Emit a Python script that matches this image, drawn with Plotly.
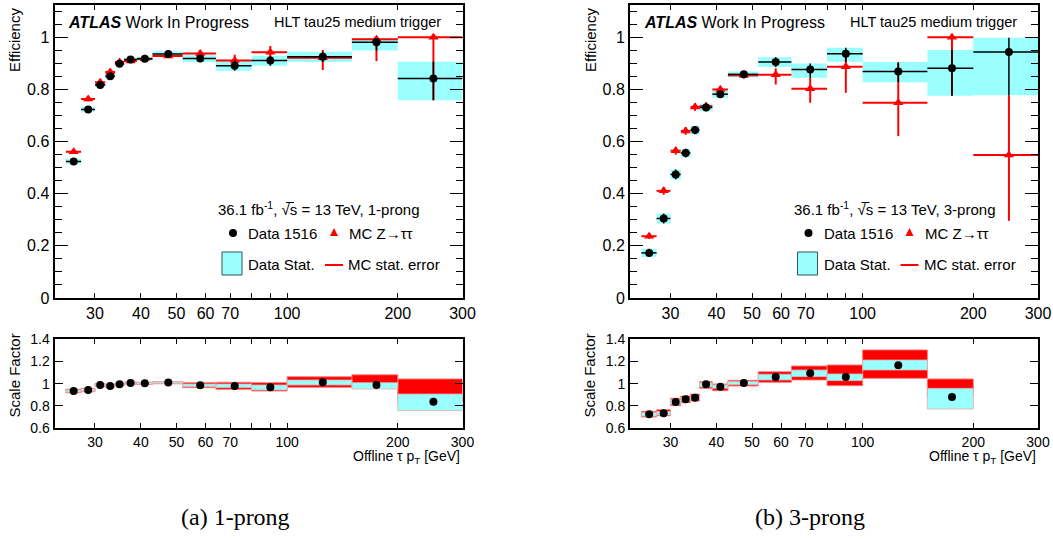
import plotly.graph_objects as go

W, H = 1053, 540

# Offline tau pT binning [GeV]
edges = [25, 27.5, 30, 32, 34, 36, 39, 43, 52, 64, 80, 100, 150, 200, 300]

# ---------------- 1-prong ----------------
eff1_data = [0.524, 0.7235, 0.817, 0.851, 0.899, 0.915, 0.918, 0.936, 0.919, 0.891, 0.911, 0.925, 0.981, 0.842]
eff1_data_up = [0.009, 0.009, 0.008, 0.008, 0.007, 0.007, 0.007, 0.010, 0.012, 0.022, 0.018, 0.020, 0.015, 0.064]
eff1_data_dn = [0.009, 0.009, 0.008, 0.008, 0.007, 0.007, 0.007, 0.010, 0.014, 0.019, 0.020, 0.020, 0.032, 0.083]
eff1_mc = [0.561, 0.763, 0.828, 0.867, 0.905, 0.909, 0.918, 0.928, 0.938, 0.911, 0.943, 0.922, 0.993, 1.0]
eff1_mc_up = [0.008, 0.008, 0.007, 0.007, 0.007, 0.006, 0.006, 0.008, 0.012, 0.022, 0.024, 0.029, 0.007, 0.0]
eff1_mc_dn = [0.008, 0.008, 0.007, 0.007, 0.007, 0.006, 0.006, 0.008, 0.012, 0.022, 0.025, 0.047, 0.084, 0.241]

sf1 = [0.934, 0.943, 0.988, 0.979, 0.994, 1.005, 1.003, 1.010, 0.985, 0.979, 0.967, 1.012, 0.988, 0.838]
sf1_mc_lo = [0.918, 0.928, 0.976, 0.968, 0.984, 0.996, 0.994, 0.999, 0.964, 0.949, 0.934, 0.967, 0.981, 0.842]
sf1_mc_hi = [0.950, 0.958, 1.000, 0.990, 1.004, 1.014, 1.012, 1.018, 1.009, 1.012, 1.009, 1.062, 1.079, 1.042]
sf1_dat_lo = [0.924, 0.933, 0.980, 0.971, 0.987, 0.998, 0.996, 1.002, 0.973, 0.964, 0.943, 0.988, 0.952, 0.758]
sf1_dat_hi = [0.944, 0.953, 0.996, 0.987, 1.001, 1.012, 1.010, 1.016, 0.997, 0.997, 0.988, 1.033, 1.009, 0.907]

# ---------------- 3-prong ----------------
eff3_data = [0.173, 0.305, 0.474, 0.556, 0.644, 0.731, 0.782, 0.858, 0.905, 0.877, 0.937, 0.869, 0.881, 0.944]
eff3_data_up = [0.016, 0.019, 0.019, 0.017, 0.016, 0.015, 0.014, 0.011, 0.019, 0.023, 0.023, 0.036, 0.070, 0.054]
eff3_data_dn = [0.016, 0.019, 0.019, 0.017, 0.016, 0.015, 0.014, 0.011, 0.019, 0.032, 0.031, 0.041, 0.105, 0.166]
eff3_mc = [0.237, 0.411, 0.565, 0.641, 0.733, 0.736, 0.800, 0.854, 0.856, 0.803, 0.887, 0.749, 1.0, 0.549]
eff3_mc_up = [0.010, 0.015, 0.015, 0.015, 0.015, 0.014, 0.014, 0.012, 0.025, 0.043, 0.064, 0.153, 0.0, 0.229]
eff3_mc_dn = [0.010, 0.015, 0.015, 0.015, 0.015, 0.014, 0.014, 0.012, 0.037, 0.054, 0.100, 0.128, 0.224, 0.253]

sf3 = [0.725, 0.734, 0.836, 0.860, 0.874, 0.994, 0.973, 1.006, 1.060, 1.093, 1.060, 1.164, 0.880, None]
sf3_mc_lo = [0.701, 0.713, 0.803, 0.830, 0.845, 0.958, 0.937, 0.979, 1.012, 1.033, 0.982, 1.048, 0.880, None]
sf3_mc_hi = [0.752, 0.767, 0.869, 0.890, 0.907, 1.018, 0.997, 1.030, 1.107, 1.158, 1.167, 1.302, 1.042, None]
sf3_dat_lo = [0.709, 0.720, 0.815, 0.843, 0.858, 0.970, 0.958, 0.990, 1.033, 1.062, 1.027, 1.122, 0.773, None]
sf3_dat_hi = [0.742, 0.750, 0.857, 0.877, 0.890, 1.007, 0.990, 1.020, 1.084, 1.122, 1.087, 1.212, 0.958, None]

# labelled and unlabelled x ticks
x_ticks = [30, 40, 50, 60, 70, 100, 200, 300]
x_minor_ticks = [80, 90]

CYAN = "#99ffff"
RED = "#ff0000"
FONT = "Liberation Sans, Arial, sans-serif"

lo_edges = edges[:-1]
hi_edges = edges[1:]
centers = [(a + b) / 2 for a, b in zip(lo_edges, hi_edges)]


def px(x):
    return x / W


def py(y):
    return 1 - y / H


def band(lo, hi, xa, ya, color, outline=None):
    xs, ys = [], []
    for a, b, l, h in zip(lo_edges, hi_edges, lo, hi):
        if l is None or h is None:
            continue
        xs += [a, b, b, a, a, None]
        ys += [l, l, h, h, l, None]
    return go.Scatter(
        x=xs, y=ys, xaxis=xa, yaxis=ya, mode="lines", fill="toself",
        fillcolor=color, line=dict(width=1 if outline else 0, color=outline or color),
        hoverinfo="skip", showlegend=False,
    )


def points(y, up, dn, xa, ya, color, symbol, size, lw):
    return go.Scatter(
        x=centers, y=y, xaxis=xa, yaxis=ya, mode="markers",
        marker=dict(color=color, symbol=symbol, size=size, line=dict(width=0)),
        error_x=dict(type="data", symmetric=False,
                     array=[b - c for b, c in zip(hi_edges, centers)],
                     arrayminus=[c - a for a, c in zip(lo_edges, centers)],
                     color=color, thickness=lw, width=0),
        error_y=dict(type="data", symmetric=False, array=up, arrayminus=dn,
                     color=color, thickness=lw, width=0),
        showlegend=False, hoverinfo="skip",
    )


def sf_points(y, xa, ya):
    return go.Scatter(
        x=centers, y=y, xaxis=xa, yaxis=ya, mode="markers",
        marker=dict(color="black", symbol="circle", size=8),
        showlegend=False, hoverinfo="skip",
    )


traces = []
panels = [
    ("x", "y", "x2", "y2", eff1_data, eff1_data_up, eff1_data_dn, eff1_mc, eff1_mc_up, eff1_mc_dn,
     sf1, sf1_mc_lo, sf1_mc_hi, sf1_dat_lo, sf1_dat_hi),
    ("x3", "y3", "x4", "y4", eff3_data, eff3_data_up, eff3_data_dn, eff3_mc, eff3_mc_up, eff3_mc_dn,
     sf3, sf3_mc_lo, sf3_mc_hi, sf3_dat_lo, sf3_dat_hi),
]
for (xt, yt, xb, yb, d, du, dd, m, mu, md, sf, mlo, mhi, dlo, dhi) in panels:
    d_lo = [v - e for v, e in zip(d, dd)]
    d_hi = [v + e for v, e in zip(d, du)]
    traces.append(band(d_lo, d_hi, xt, yt, CYAN))
    traces.append(points(m, mu, md, xt, yt, RED, "triangle-up", 9, 2))
    traces.append(points(d, du, dd, xt, yt, "black", "circle", 8, 1.5))
    traces.append(band(mlo, mhi, xb, yb, RED, "rgba(255,120,120,0.9)"))
    traces.append(band(dlo, dhi, xb, yb, CYAN, "rgba(230,170,170,0.8)"))
    traces.append(sf_points(sf, xb, yb))

fig = go.Figure(traces)

xrange_log = [1.367, 2.4771]
x_left = [px(54.5), px(462.5)]
x_right = [px(630), px(1038)]
y_top = [py(298), py(5)]
y_bot = [py(428.3), py(339)]


def xaxis(domain, anchor, labels_size):
    return dict(
        domain=domain, anchor=anchor, type="log", range=xrange_log,
        tickmode="array", tickvals=x_ticks, ticktext=[str(v) for v in x_ticks],
        ticks="inside", ticklen=5, tickwidth=1, tickcolor="black",
        minor=dict(tickmode="array", tickvals=x_minor_ticks, ticks="inside",
                   ticklen=5, tickwidth=1, tickcolor="black", showgrid=False),
        showline=True, linecolor="black",
        linewidth=2, mirror="allticks", showgrid=False, zeroline=False,
        automargin=False,
        tickfont=dict(family=FONT, size=labels_size, color="black"),
    )


def yaxis_top(anchor):
    return dict(
        domain=y_top, anchor=anchor, range=[0, 1.124],
        tickvals=[0, 0.2, 0.4, 0.6, 0.8, 1.0], ticktext=["0", "0.2", "0.4", "0.6", "0.8", "1"],
        ticks="inside", ticklen=13, tickwidth=1, tickcolor="black",
        minor=dict(ticks="inside", ticklen=7, dtick=0.05, tick0=0, tickcolor="black", showgrid=False),
        showline=True, linecolor="black", linewidth=2, mirror="allticks",
        showgrid=False, zeroline=False, automargin=False,
        tickfont=dict(family=FONT, size=16, color="black"),
    )


def yaxis_bot(anchor):
    return dict(
        domain=y_bot, anchor=anchor, range=[0.6, 1.4],
        tickvals=[0.6, 0.8, 1.0, 1.2, 1.4], ticktext=["0.6", "0.8", "1", "1.2", "1.4"],
        ticks="inside", ticklen=8, tickwidth=1, tickcolor="black",
        showline=True, linecolor="black", linewidth=2, mirror="allticks",
        showgrid=False, zeroline=False, automargin=False,
        tickfont=dict(family=FONT, size=14, color="black"),
    )


annotations = []
shapes = []


def text(x, y, s, size, xanchor="left", yanchor="middle", angle=0, family=FONT):
    annotations.append(dict(
        xref="paper", yref="paper", x=px(x), y=py(y), text=s, showarrow=False,
        xanchor=xanchor, yanchor=yanchor, textangle=angle,
        font=dict(family=family, size=size, color="black"),
    ))


def hline(x0, x1, y, color, width):
    shapes.append(dict(type="line", xref="paper", yref="paper",
                       x0=px(x0), x1=px(x1), y0=py(y), y1=py(y),
                       line=dict(width=width, color=color)))


for off, prong in [(0, "1-prong"), (575.5, "3-prong")]:
    text(66 + off, 22, "<b><i>ATLAS</i></b> Work In Progress", 16)
    text(272 + off, 22, "HLT tau25 medium trigger", 14.5)
    text(216 + off, 208, "36.1 fb<sup>-1</sup>, √s = 13 TeV, " + prong, 15)
    # bar over the "s" of the centre-of-mass energy
    hline(286 + off, 294 + off, 202.5, "black", 1)
    text(246 + off, 233, "Data 1516", 15)
    text(347 + off, 233, "MC Z→ττ", 15)
    text(246 + off, 264, "Data Stat.", 15)
    text(346 + off, 264, "MC stat. error", 15)
    # legend symbols
    shapes.append(dict(type="circle", xref="paper", yref="paper",
                       x0=px(229 + off), x1=px(237 + off), y0=py(237), y1=py(229),
                       fillcolor="black", line=dict(width=0)))
    tx, ty = 334 + off, 232
    shapes.append(dict(type="path", xref="paper", yref="paper",
                       path=f"M {px(tx-4)} {py(ty+4)} L {px(tx+4)} {py(ty+4)} L {px(tx)} {py(ty-4)} Z",
                       fillcolor=RED, line=dict(width=0)))
    shapes.append(dict(type="rect", xref="paper", yref="paper",
                       x0=px(222 + off), x1=px(242 + off), y0=py(275), y1=py(252),
                       fillcolor=CYAN, line=dict(width=1, color="#335555")))
    hline(325 + off, 343 + off, 265, RED, 2)

# axis titles
for xc in (14, 590):
    text(xc, 40, "Efficiency", 15, xanchor="center", yanchor="middle", angle=-90)
for xc in (13.5, 588.5):
    text(xc, 376, "Scale Factor", 15, xanchor="center", yanchor="middle", angle=-90)
for xr in (462, 1038):
    text(xr, 446, "Offline τ p<sub>T</sub> [GeV]", 14, xanchor="right", yanchor="top")

# sub-figure captions
text(235, 517, "(a) 1-prong", 24, xanchor="center", family="Liberation Serif, Times New Roman, serif")
text(810, 517, "(b) 3-prong", 24, xanchor="center", family="Liberation Serif, Times New Roman, serif")

fig.update_layout(
    width=W, height=H,
    margin=dict(l=0, r=0, t=0, b=0, pad=0, autoexpand=False),
    paper_bgcolor="white", plot_bgcolor="white", showlegend=False,
    xaxis=xaxis(x_left, "y", 16), yaxis=yaxis_top("x"),
    xaxis2=xaxis(x_left, "y2", 14), yaxis2=yaxis_bot("x2"),
    xaxis3=xaxis(x_right, "y3", 16), yaxis3=yaxis_top("x3"),
    xaxis4=xaxis(x_right, "y4", 14), yaxis4=yaxis_bot("x4"),
    annotations=annotations, shapes=shapes,
)

fig.write_html("out.html")
